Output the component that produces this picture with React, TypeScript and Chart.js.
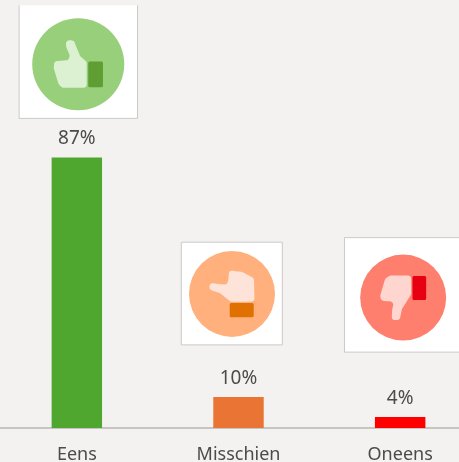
import React, { useEffect, useRef } from "react";
import { Chart, registerables } from "chart.js";

Chart.register(...registerables);

const categories = ["Eens", "Misschien", "Oneens"];
const values = [87, 10, 3.5];
const valueLabels = ["87%", "10%", "4%"];
const barColors = ["#4fa72f", "#ea7433", "#ff0000"];

const FONT = '"Noto Sans", sans-serif';
const TEXT = "#4b4b4b";
const BG = "#f3f2f0";

type Pt = [number, number];
type Icon = {
  box: [number, number, number, number]; // left, top, right, bottom relative to bar x / bar top
  topBorder: boolean;
  cx: number; cy: number; r: number; // relative to bar x / bar top
  circle: string; hand: string; cuff: string;
  cuffRect: [number, number, number, number];
  shape: Pt[];
};

const icons: Icon[] = [
  {
    box: [-57.7, -152, 60.7, -39], topBorder: false,
    cx: 1.4, cy: -93.2, r: 46,
    circle: "#97cf7b", hand: "#dcf1d2", cuff: "#5f9e33",
    cuffRect: [10, -2.7, 14.7, 25.7],
    shape: [[8.5, 23.5], [8.5, -2.5], [2, -8], [-3, -20], [-4, -24], [-12.5, -24], [-12, -17], [-8.5, -9], [-9.5, -4], [-24, -3], [-24.5, 4], [-19.7, 20], [-16, 23.5]],
  },
  {
    box: [-57.2, -154.7, 43.8, -52], topBorder: true,
    cx: -6.5, cy: -103, r: 43,
    circle: "#ffb07c", hand: "#fde3d8", cuff: "#e07000",
    cuffRect: [-2.3, 9, 24, 14.3],
    shape: [[-3, -23.5], [10, -22], [22, -15.7], [22.5, 7.5], [-1.3, 8], [-12, -0.7], [-20.3, -3.5], [-23, -5], [-22, -11], [-5, -9], [-3.7, -14]],
  },
  {
    box: [-55.7, -179.5, 80, -65], topBorder: true,
    cx: 3, cy: -119.5, r: 43,
    circle: "#ff7f6e", hand: "#ffd6cf", cuff: "#e60012",
    cuffRect: [9.3, -21.7, 13.7, 24],
    shape: [[8, -22], [8, -3.4], [-1.3, 11.7], [-3.5, 22.5], [-11.5, 22.5], [-11, 12], [-9, 4], [-22, 3.2], [-23, -1.7], [-18, -19], [-13, -22]],
  },
];

function roundedPoly(ctx: CanvasRenderingContext2D, pts: Pt[], ox: number, oy: number, rad: number) {
  ctx.beginPath();
  const n = pts.length;
  const mid = (a: Pt, b: Pt): Pt => [(a[0] + b[0]) / 2, (a[1] + b[1]) / 2];
  const s = mid(pts[n - 1], pts[0]);
  ctx.moveTo(ox + s[0], oy + s[1]);
  pts.forEach((p, i) => {
    const next = pts[(i + 1) % n];
    const m = mid(p, next);
    ctx.arcTo(ox + p[0], oy + p[1], ox + m[0], oy + m[1], rad);
    ctx.lineTo(ox + m[0], oy + m[1]);
  });
  ctx.closePath();
}

const decorations = {
  id: "decorations",
  afterDatasetsDraw(chart: any) {
    const ctx: CanvasRenderingContext2D = chart.ctx;
    const bars = chart.getDatasetMeta(0).data;
    ctx.save();
    bars.forEach((bar: any, i: number) => {
      const ic = icons[i];
      const [l, t, r, b] = ic.box;
      const x0 = bar.x, y0 = bar.y;
      ctx.fillStyle = "#ffffff";
      ctx.fillRect(x0 + l, y0 + t, r - l, b - t);
      ctx.strokeStyle = "#cbc9c7";
      ctx.lineWidth = 1;
      ctx.beginPath();
      if (ic.topBorder) {
        ctx.moveTo(x0 + r, y0 + t);
        ctx.lineTo(x0 + l, y0 + t);
      } else {
        ctx.moveTo(x0 + l, y0 + t);
      }
      ctx.lineTo(x0 + l, y0 + b);
      ctx.lineTo(x0 + r, y0 + b);
      ctx.lineTo(x0 + r, y0 + t);
      ctx.stroke();

      const cx = x0 + ic.cx, cy = y0 + ic.cy;
      ctx.fillStyle = ic.circle;
      ctx.beginPath();
      ctx.arc(cx, cy, ic.r, 0, Math.PI * 2);
      ctx.fill();

      ctx.fillStyle = ic.hand;
      roundedPoly(ctx, ic.shape, cx, cy, 3.5);
      ctx.fill();

      ctx.fillStyle = ic.cuff;
      const [rx, ry, rw, rh] = ic.cuffRect;
      ctx.beginPath();
      ctx.roundRect(cx + rx, cy + ry, rw, rh, 1.5);
      ctx.fill();

      ctx.fillStyle = TEXT;
      ctx.font = `19px ${FONT}`;
      ctx.textAlign = "center";
      ctx.textBaseline = "middle";
      ctx.fillText(valueLabels[i], x0, y0 - 18.5);
    });
    ctx.restore();
  },
};

export default function App() {
  const ref = useRef<HTMLCanvasElement>(null);

  useEffect(() => {
    document.body.style.margin = "0";
    document.body.style.overflow = "hidden";
    const chart = new Chart(ref.current!, {
      type: "bar",
      data: {
        labels: categories,
        datasets: [
          {
            data: values,
            backgroundColor: barColors,
            barPercentage: 0.312,
            categoryPercentage: 1,
          },
        ],
      },
      options: {
        animation: false,
        responsive: false,
        maintainAspectRatio: false,
        layout: { padding: 0 },
        plugins: { legend: { display: false }, tooltip: { enabled: false } },
        scales: {
          x: {
            grid: { display: false, drawTicks: false },
            border: { display: true, color: "#c6c5c3", width: 2 },
            ticks: { color: TEXT, font: { family: FONT, size: 18 }, padding: 16, maxRotation: 0 },
            afterFit: (s: any) => { s.height = 34; },
          },
          y: { display: false, min: 0, max: 137.6 },
        },
      },
      plugins: [decorations],
    } as any);
    return () => chart.destroy();
  }, []);

  return (
    <div style={{ position: "fixed", left: 0, top: 0, width: 459, height: 462, overflow: "hidden", background: BG }}>
      <canvas ref={ref} width={485} height={462} style={{ position: "absolute", left: -4, top: 0, display: "block" }} />
    </div>
  );
}
